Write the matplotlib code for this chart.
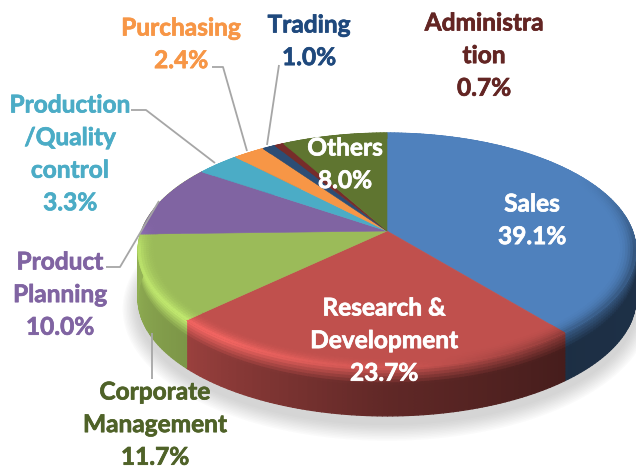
import matplotlib
matplotlib.use("Agg")
import matplotlib.pyplot as plt
import matplotlib.patheffects as pe
from matplotlib.collections import PolyCollection
from matplotlib.colors import to_rgb
import numpy as np

names = ["Sales", "Research &\nDevelopment", "Corporate\nManagement", "Product\nPlanning",
         "Production\n/Quality\ncontrol", "Purchasing", "Trading", "Administra\ntion", "Others"]
values = [39.1, 23.7, 11.7, 10.0, 3.3, 2.4, 1.0, 0.7, 8.0]
colors = ["#4F81BD", "#C0504D", "#9BBB59", "#8064A2", "#4BACC6", "#F79646", "#2C4D75", "#772C2A", "#5F7530"]
# the green side wall runs on to the far left edge
wall_colors = colors[:3] + [colors[2]] + colors[4:]
text_colors = ["white", "white", "#4F6228", "#8064A2", "#4BACC6", "#F79646", "#1F497D", "#632523", "white"]
text_x = [532, 384, 155, 60, 70, 181, 309, 484, 345]
text_top = [204, 308, 392, 262, 105, 28, 25, 23, 148]

# leader lines, pixels
leaders = [[(131, 110), (146, 110), (215, 163)],
           [(212, 67), (223, 67), (247, 151)],
           [(279, 65), (267, 145)],
           [(106, 267), (120, 267), (159, 201)],
           [(152, 333), (152, 379)]]

# perspective of the disc
apex_x, apex_y = 387, 231
k, b, a = 0.166, 114.2, 245.5
depth = 48

# shading against clockwise angle from the top
wall_ang = [0, 95, 140, 180, 226, 268, 300, 360]
wall_fac = [0.45, 0.38, 0.36, 0.5, 0.8, 0.95, 0.95, 0.6]
rim_ang = [0, 60, 100, 140, 180, 215, 262, 275, 360]
rim_fac = [1.0, 1.0, 0.62, 0.72, 1.1, 1.3, 1.22, 1.0, 1.0]


def project(theta, r=1.0):
    x = r * np.sin(np.radians(theta))
    y = r * np.cos(np.radians(theta))
    w = 1 + k * y
    return apex_x + a * x / w, apex_y - b * y / w


def shade(col, f):
    return tuple(np.clip(np.array(col) * f, 0, 1))


def mix(c1, c2, t):
    return tuple(np.array(c1) * (1 - t) + np.array(c2) * t)


fig = plt.figure(figsize=(6.36, 4.69), dpi=100)
ax = fig.add_axes([0, 0, 1, 1])
ax.set_xlim(0, 636)
ax.set_ylim(469, 0)
ax.axis("off")

circle = np.arange(0, 361, 2)
# soft shadow under the pie
cx, cy = project(circle)
for grow in np.arange(16, 0, -1.5):
    sx = apex_x + (cx - apex_x) * (1 + grow / 260)
    sy = apex_y + depth + 8 + (cy - apex_y) * (1 + grow / 130)
    ax.fill(sx, sy, color="#7f7f7f", alpha=0.03, lw=0, zorder=1)

edges = np.concatenate([[0], np.cumsum(values) / np.sum(values) * 360])

wall_polys, wall_cols = [], []
band_polys, band_cols = [], []
wall_steps = np.linspace(0, 1, 17)
band_start = 0.93
band_steps = np.linspace(band_start, 1, 8)
for i, col in enumerate(colors):
    base = to_rgb(col)
    wall_base = to_rgb(wall_colors[i])
    angs = np.arange(edges[i], edges[i + 1] + 1, 1.0)
    angs = np.append(angs[angs < edges[i + 1]], edges[i + 1])
    for t0, t1 in zip(angs[:-1], angs[1:]):
        mid = (t0 + t1) / 2
        hi = shade(base, np.interp(mid, rim_ang, rim_fac))
        wall_hi = shade(wall_base, np.interp(mid, rim_ang, rim_fac))
        lo = shade(wall_base, np.interp(mid, wall_ang, wall_fac))
        x0, y0 = project(t0)
        x1, y1 = project(t1)
        # side wall: rounded edge on top, plain below
        for d0, d1 in zip(wall_steps[:-1], wall_steps[1:]):
            dm = (d0 + d1) / 2
            c = mix(wall_hi, lo, min(dm / 0.35, 1))
            wall_polys.append([(x0, y0 + d0 * depth), (x1, y1 + d0 * depth),
                               (x1, y1 + d1 * depth), (x0, y0 + d1 * depth)])
            wall_cols.append(c)
        # band of the top face that rolls into the wall
        for r0, r1 in zip(band_steps[:-1], band_steps[1:]):
            f = (r0 + r1) / 2
            c = mix(base, hi, ((f - band_start) / (1 - band_start)) ** 2)
            xa, ya = project(t0, r0)
            xb, yb = project(t1, r0)
            xc, yc = project(t1, r1)
            xd, yd = project(t0, r1)
            band_polys.append([(xa, ya), (xb, yb), (xc, yc), (xd, yd)])
            band_cols.append(c)

ax.add_collection(PolyCollection(wall_polys, facecolors=wall_cols, edgecolors=wall_cols, linewidths=0.9, zorder=2))

# top face
for i, col in enumerate(colors):
    angs = np.linspace(edges[i], edges[i + 1], 60)
    px, py = project(angs)
    ax.fill(np.r_[apex_x, px], np.r_[apex_y, py], facecolor=col, edgecolor=col, lw=0.4, zorder=3)

ax.add_collection(PolyCollection(band_polys, facecolors=band_cols, edgecolors=band_cols, linewidths=0.6, zorder=4))

for line in leaders:
    xs, ys = zip(*line)
    ax.plot(xs, ys, color="#a6a6a6", lw=1.3, zorder=5, solid_capstyle="butt")

line_gap = 32.6
for name, val, tc, tx, ty in zip(names, values, text_colors, text_x, text_top):
    rows = name.split("\n") + [f"{val:.1f}%"]
    for j, row in enumerate(rows):
        ax.text(tx, ty + j * line_gap, row, color=tc, family="Lato", fontweight="bold",
                fontsize=17.6, ha="center", va="center", zorder=6,
                path_effects=[pe.withStroke(linewidth=0.5, foreground=tc)])

fig.savefig("out.png", dpi=100)
